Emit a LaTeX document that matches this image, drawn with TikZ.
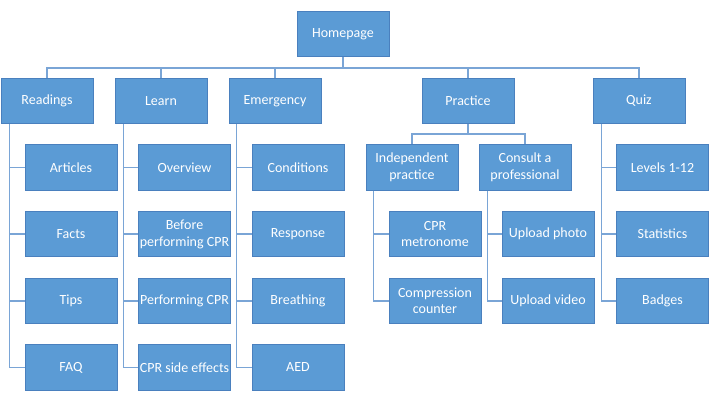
\documentclass[tikz,border=0pt]{standalone}
\usepackage{fontspec}
\setmainfont{Carlito}
\usepackage{xcolor}
\usetikzlibrary{positioning,calc}
\definecolor{boxfill}{HTML}{5B9BD5}
\definecolor{boxline}{HTML}{4A80BE}
\definecolor{linkline}{HTML}{7AA5D6}

\begin{document}
\begin{tikzpicture}[x=0.75pt, y=-0.75pt, node distance=15.4pt,
  box/.style={draw=boxline, fill=boxfill, text=white, align=center, inner sep=1pt,
    minimum width=69pt, minimum height=34pt, line width=0.6pt,
    font=\fontsize{10.5}{12.5}\selectfont},
  conn/.style={draw=linkline, line width=1.1pt}]
\useasboundingbox (0,0) rectangle (710,402);
% top level
\node[box] (home) at (343,34) {Homepage};
\node[box] (read) at (47,101) {Readings};
\node[box] (learn) at (161,101) {Learn};
\node[box] (emer) at (275,101) {Emergency};
\node[box] (prac) at (468,101) {Practice};
\node[box] (quiz) at (639,101) {Quiz};
% readings column
\node[box] (art) at (71,167.5) {Articles};
\node[box, below=of art] (facts) {Facts};
\node[box, below=of facts] (tips) {Tips};
\node[box, below=of tips] (faq) {FAQ};
% learn column
\node[box] (over) at (184.5,167.5) {Overview};
\node[box, below=of over] (before) {Before\\performing CPR};
\node[box, below=of before] (perf) {Performing CPR};
\node[box, below=of perf] (side) {CPR side effects};
% emergency column
\node[box] (cond) at (298,167.5) {Conditions};
\node[box, below=of cond] (resp) {Response};
\node[box, below=of resp] (breath) {Breathing};
\node[box, below=of breath] (aed) {AED};
% practice
\node[box] (indep) at (412,167.5) {Independent\\practice};
\node[box] (consult) at (525,167.5) {Consult a\\professional};
\node[box, below=of indep, xshift=17.25pt] (metro) {CPR\\metronome};
\node[box, below=of metro] (compr) {Compression\\counter};
\node[box, below=of consult, xshift=17.25pt] (photo) {Upload photo};
\node[box, below=of photo] (video) {Upload video};
% quiz column
\node[box] (levels) at (662.5,167.5) {Levels 1-12};
\node[box, below=of levels] (stats) {Statistics};
\node[box, below=of stats] (badges) {Badges};

% connectors
\coordinate (bus) at (343,68);
\foreach \n in {read,learn,emer,prac,quiz}
  \draw[conn] (home.south) -- (home.south |- bus) -| (\n.north);
\draw[conn] (prac.south) -- ++(0,10) -| (indep.north);
\draw[conn] (prac.south) -- ++(0,10) -| (consult.north);
\foreach \p/\dx/\kids in {read/9/{art,facts,tips,faq}, learn/9/{over,before,perf,side},
    emer/8/{cond,resp,breath,aed}, indep/8/{metro,compr}, consult/9/{photo,video},
    quiz/9/{levels,stats,badges}}
  \foreach \k in \kids
    \draw[conn] ($(\p.south west)+(\dx,0)$) |- (\k.west);
\end{tikzpicture}
\end{document}
